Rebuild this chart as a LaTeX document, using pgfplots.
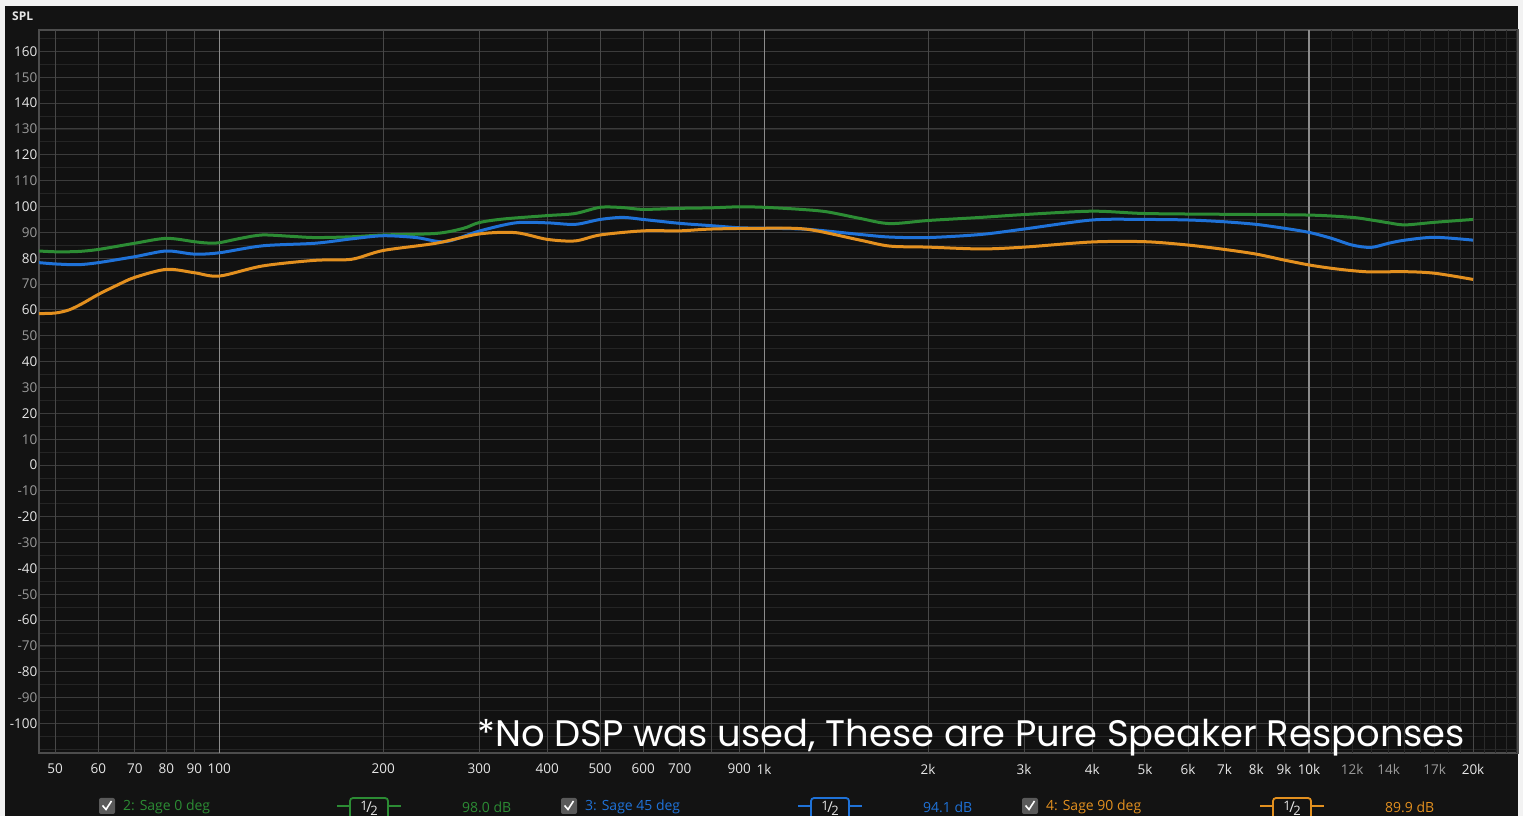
\documentclass[border=0pt]{standalone}
\usepackage{pgfplots}
\pgfplotsset{compat=1.18}
\usepackage{fontspec}
\setmainfont{Open Sans}
\newfontfamily\popfont{Poppins}
\definecolor{panellight}{HTML}{F2F2F2}
\definecolor{paneldark}{HTML}{131313}
\definecolor{plotbg}{HTML}{111111}
\definecolor{framecol}{HTML}{4D4D4D}
\definecolor{vmajc}{HTML}{484848}
\definecolor{vbrightc}{HTML}{8C8C8C}
\definecolor{vminc}{HTML}{2A2A2A}
\definecolor{hmajc}{HTML}{3C3C3C}
\definecolor{hminc}{HTML}{252525}
\definecolor{gcol}{HTML}{2C8C34}
\definecolor{bcol}{HTML}{1F72D8}
\definecolor{ocol}{HTML}{E3901F}
\definecolor{tickw}{HTML}{E6E6E6}
\definecolor{tickg}{HTML}{9A9A9A}
\definecolor{chkbg}{HTML}{5A5A5A}
\newcommand{\W}[1]{\textcolor{tickw}{#1}}
\newcommand{\G}[1]{\textcolor{tickg}{#1}}
\newcommand{\half}{\raisebox{2pt}{1}\kern-1.5pt{\fontsize{15}{15}\selectfont/}\kern-1.5pt\raisebox{-3pt}{2}}
\newcommand{\legendgroup}[5]{%
  \fill[chkbg, rounded corners=2pt] (#1-8,2) rectangle (#1+8,18);
  \draw[white, line width=1.6pt] (#1-4.5,10.5) -- (#1-1,6.5) -- (#1+4.5,15);
  \node[anchor=west, inner sep=0, text=#5, font=\fontsize{14}{14}\selectfont] at (#1+16,9) {#2};
  \draw[#5, line width=1.8pt] (#3-32,10) -- (#3-19,10);
  \draw[#5, line width=1.8pt] (#3+19,10) -- (#3+32,10);
  \draw[#5, line width=1.8pt, rounded corners=3pt] (#3-19,-4) rectangle (#3+19,18);
  \node[inner sep=0, text=tickw, font=\fontsize{13}{13}\selectfont] at (#3,8) {\half};
  \node[anchor=west, inner sep=0, text=#5, font=\fontsize{14}{14}\selectfont] at (#4,9) {\csname dbval#1\endcsname};
}
\pgfplotstableread{
f db
46.7 82.8
50 82.5
55 82.6
60 83.4
70 85.8
80 87.7
90 86.4
95 85.9
100 86.0
110 87.8
120 89.0
135 88.5
150 88.0
175 88.3
200 89.0
250 89.6
280 91.5
300 93.8
333 95.2
400 96.5
450 97.3
500 99.7
550 99.6
600 98.9
700 99.3
800 99.5
900 99.9
1000 99.7
1150 99.0
1300 98.0
1500 95.4
1700 93.4
2000 94.6
2500 95.8
3000 96.9
4000 98.2
5000 97.3
7000 97.0
10000 96.7
12000 95.8
13000 94.8
14000 93.7
15000 92.9
17000 93.9
20000 95.0
}\greendata
\pgfplotstableread{
f db
46.7 78.3
50 77.8
55 77.5
60 78.3
70 80.6
80 82.8
90 81.6
100 82.1
120 84.8
150 85.8
175 87.5
200 88.7
230 88.0
260 86.4
300 90.5
350 93.7
400 93.7
450 93.1
500 95.0
550 95.8
600 95.0
700 93.5
800 92.6
900 91.8
1000 91.6
1200 91.2
1500 89.2
1700 88.2
2000 88.0
2500 89.2
3000 91.3
4000 94.8
5000 95.0
6000 94.8
7000 94.1
8000 93.1
9000 91.6
10000 90.0
11000 87.7
12000 85.1
13000 84.2
14000 85.8
15000 87.0
17000 88.1
20000 87.0
}\bluedata
\pgfplotstableread{
f db
46.7 58.6
50 58.8
53 60.0
56 62.4
60 66.0
65 69.6
70 72.6
80 75.7
90 74.4
100 73.1
120 77.0
150 79.2
175 79.6
200 83.0
250 85.8
300 89.4
350 89.9
400 87.3
450 86.7
500 89.0
600 90.6
700 90.6
800 91.3
1000 91.6
1200 91.2
1500 87.0
1700 84.7
2000 84.3
2500 83.6
3000 84.3
4000 86.3
5000 86.4
6000 85.1
7000 83.4
8000 81.6
9000 79.3
10000 77.4
11000 76.1
12000 75.2
13000 74.7
15000 74.8
17000 74.2
20000 71.8
}\orangedata
\expandafter\def\csname dbval107\endcsname{98.0 dB}
\expandafter\def\csname dbval569\endcsname{94.1 dB}
\expandafter\def\csname dbval1030\endcsname{89.9 dB}
\begin{document}
\begin{tikzpicture}[x=1pt,y=1pt]
\clip (0,0) rectangle (1523,816);
\fill[panellight] (0,0) rectangle (1523,816);
\fill[paneldark] (5,0) rectangle (1518,810);
\node[anchor=west, inner sep=0, text=tickw, font=\bfseries\fontsize{12}{12}\selectfont] at (12,800) {SPL};
\begin{axis}[
  at={(39pt,63pt)}, anchor=south west,
  scale only axis, width=1479pt, height=723pt,
  xmode=log, xmin=46.7, xmax=24187,
  ymin=-111.4, ymax=168.3,
  axis background/.style={fill=plotbg},
  axis line style={framecol, line width=1.2pt},
  major tick length=0pt, minor tick length=0pt,
  xtick={50,60,70,80,90,100,200,300,400,500,600,700,800,900,1000,2000,3000,4000,5000,6000,7000,8000,9000,10000,12000,14000,17000,20000},
  xticklabels={\W{50},\W{60},\W{70},\W{80},\W{90},\W{100},\W{200},\W{300},\W{400},\W{500},\W{600},\W{700},{},\W{900},\W{1k},\W{2k},\W{3k},\W{4k},\W{5k},\W{6k},\W{7k},\W{8k},\W{9k},\W{10k},\G{12k},\G{14k},\G{17k},\W{20k}},
  ytick={-100,-90,...,160},
  yticklabels={\W{-100},\G{-90},\W{-80},\G{-70},\W{-60},\G{-50},\W{-40},\G{-30},\W{-20},\G{-10},\W{0},\G{10},\W{20},\G{30},\W{40},\G{50},\W{60},\G{70},\W{80},\G{90},\W{100},\G{110},\W{120},\G{130},\W{140},\G{150},\W{160}},
  minor ytick={-110,-105,...,165},
  ymajorgrids, yminorgrids,
  major grid style={hmajc, line width=1pt},
  minor grid style={hminc, line width=0.9pt},
  tick label style={font=\fontsize{13.5}{13.5}\selectfont},
  xticklabel style={anchor=north, yshift=-10pt, inner sep=1pt},
  yticklabel style={anchor=east, inner sep=1.5pt},
  clip=true,
]
\pgfplotsinvokeforeach{11000,12000,13000,14000,15000,16000,17000,18000,19000,21000,22000,23000,24000}{
  \draw[vminc, line width=1pt] (axis cs:#1,-111.4) -- (axis cs:#1,168.3);
}
\pgfplotsinvokeforeach{50,60,70,80,90,200,300,400,500,600,700,800,900,2000,3000,4000,5000,6000,7000,8000,9000,20000}{
  \draw[vmajc, line width=1pt] (axis cs:#1,-111.4) -- (axis cs:#1,168.3);
}
\pgfplotsinvokeforeach{100,1000,10000}{
  \draw[vbrightc, line width=1.2pt] (axis cs:#1,-111.4) -- (axis cs:#1,168.3);
}
\addplot[gcol, line width=3pt, smooth, tension=0.5] table[x=f, y=db] {\greendata};
\addplot[bcol, line width=3pt, smooth, tension=0.5] table[x=f, y=db] {\bluedata};
\addplot[ocol, line width=3pt, smooth, tension=0.5] table[x=f, y=db] {\orangedata};
\end{axis}
\node[anchor=base west, inner sep=0, text=white, font=\popfont\fontsize{36.9}{36.9}\selectfont] at (477,69) {*No DSP was used, These are Pure Speaker Responses};
\legendgroup{107}{2: Sage 0 deg}{369}{462}{gcol}
\legendgroup{569}{3: Sage 45 deg}{830}{923}{bcol}
\legendgroup{1030}{4: Sage 90 deg}{1292}{1385}{ocol}
\end{tikzpicture}
\end{document}
